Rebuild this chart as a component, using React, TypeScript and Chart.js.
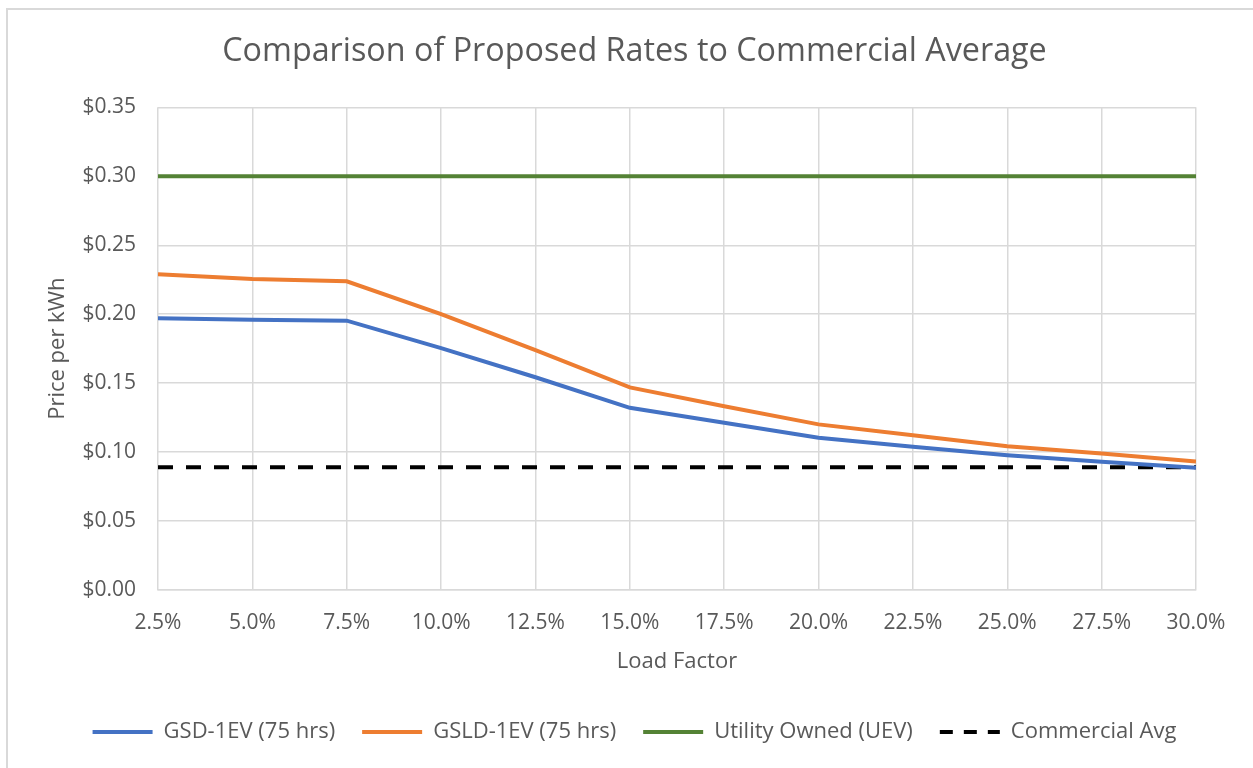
import React, { useEffect, useRef } from "react";
import { Chart, registerables } from "chart.js";

Chart.register(...registerables);

const loadFactors = [2.5, 5, 7.5, 10, 12.5, 15, 17.5, 20, 22.5, 25, 27.5, 30];
const gsd1ev = [0.197, 0.1959, 0.1953, 0.1754, 0.1543, 0.1321, 0.1213, 0.1104, 0.1039, 0.0978, 0.093, 0.0886];
const gsld1ev = [0.229, 0.2255, 0.2239, 0.2, 0.1739, 0.1469, 0.1333, 0.1201, 0.1123, 0.1043, 0.099, 0.0932];
const utilityOwned = [0.3, 0.3, 0.3, 0.3, 0.3, 0.3, 0.3, 0.3, 0.3, 0.3, 0.3, 0.3];
const commercialAvg = [0.089, 0.089, 0.089, 0.089, 0.089, 0.089, 0.089, 0.089, 0.089, 0.089, 0.089, 0.089];
const seriesNames = ["GSD-1EV (75 hrs)", "GSLD-1EV (75 hrs)", "Utility Owned (UEV)", "Commercial Avg"];

const TEXT = "#595959";
const GRID = "#d9d9d9";
const FONT = "'Open Sans', sans-serif";

const toPoints = (ys: number[]) => loadFactors.map((x, i) => ({ x, y: ys[i] }));

const frame = {
  id: "frame",
  beforeDraw(chart: any) {
    const ctx = chart.ctx;
    ctx.save();
    ctx.fillStyle = "#ffffff";
    ctx.fillRect(0, 0, chart.width, chart.height);
    ctx.fillStyle = GRID;
    ctx.fillRect(6, 8, chart.width - 6, 2);
    ctx.fillRect(6, 8, 2, chart.height - 8);
    ctx.restore();
  },
};

export default function App() {
  const ref = useRef<HTMLCanvasElement | null>(null);

  useEffect(() => {
    document.body.style.margin = "0";
    Chart.defaults.font.family = FONT;
    Chart.defaults.color = TEXT;
    const canvas = ref.current!;
    const line = (label: string, data: number[], color: string, dash: number[] = []) => ({
      label,
      data: toPoints(data),
      borderColor: color,
      backgroundColor: color,
      borderWidth: 4,
      borderDash: dash,
      pointRadius: 0,
      pointHoverRadius: 0,
      tension: 0,
      fill: false,
    });
    const chart = new Chart(canvas, {
      type: "line",
      data: {
        datasets: [
          line(seriesNames[0], gsd1ev, "#4472C4"),
          line(seriesNames[1], gsld1ev, "#ED7D31"),
          line(seriesNames[2], utilityOwned, "#548235"),
          line(seriesNames[3], commercialAvg, "#000000", [15, 13]),
        ],
      },
      options: {
        responsive: false,
        animation: false,
        layout: { padding: { left: 16, right: 0, top: 0, bottom: 15 } },
        plugins: {
          title: {
            display: true,
            text: "Comparison of Proposed Rates to Commercial Average",
            color: TEXT,
            font: { size: 32.3, weight: "normal", family: FONT },
            padding: { top: 32, bottom: 36.6 },
          },
          legend: {
            position: "bottom",
            labels: {
              usePointStyle: true,
              pointStyle: "line",
              pointStyleWidth: 60,
              padding: 27,
              color: TEXT,
              font: { size: 22, family: FONT },
              generateLabels: (ch: any) =>
                Chart.defaults.plugins.legend.labels.generateLabels(ch).map((item: any) => {
                  const ds = ch.data.datasets[item.datasetIndex];
                  const dashed = ds.borderDash && ds.borderDash.length > 0;
                  return {
                    ...item,
                    lineDash: dashed ? [13, 11] : [],
                    lineWidth: 4,
                    strokeStyle: ds.borderColor,
                    fillStyle: ds.borderColor,
                    pointStyle: "line",
                  };
                }),
            },
          },
          tooltip: { enabled: false },
        },
        scales: {
          x: {
            type: "linear",
            min: 2.5,
            max: 30,
            ticks: {
              stepSize: 2.5,
              padding: 20,
              color: TEXT,
              font: { size: 21, family: FONT },
              callback: (v: any) => Number(v).toFixed(1) + "%",
            },
            grid: { color: GRID, lineWidth: 1.5, drawTicks: false },
            border: { color: GRID, width: 1.5 },
            title: {
              display: true,
              text: "Load Factor",
              color: TEXT,
              font: { size: 22, family: FONT },
              padding: { top: 0, bottom: 18.8 },
            },
            afterFit: (s: any) => {
              s.height = 104;
            },
          },
          y: {
            min: 0,
            max: 0.35,
            ticks: {
              stepSize: 0.05,
              padding: 22,
              color: TEXT,
              font: { size: 21, family: FONT },
              callback: (v: any) => "$" + Number(v).toFixed(2),
            },
            grid: { color: GRID, lineWidth: 1.5, drawTicks: false },
            border: { display: false },
            title: {
              display: true,
              text: "Price per kWh",
              color: TEXT,
              font: { size: 22, family: FONT },
              padding: { top: 28.8, bottom: 0 },
            },
            afterFit: (s: any) => {
              s.width = 142;
            },
          },
          yRight: {
            type: "linear",
            position: "right",
            display: true,
            grid: { display: false, drawTicks: false },
            ticks: { display: false },
            border: { display: false },
            afterFit: (s: any) => {
              s.width = 57;
            },
          },
        },
      },
      plugins: [frame],
    } as any);
    return () => chart.destroy();
  }, []);

  return <canvas ref={ref} width={1253} height={768} style={{ display: "block" }} />;
}
